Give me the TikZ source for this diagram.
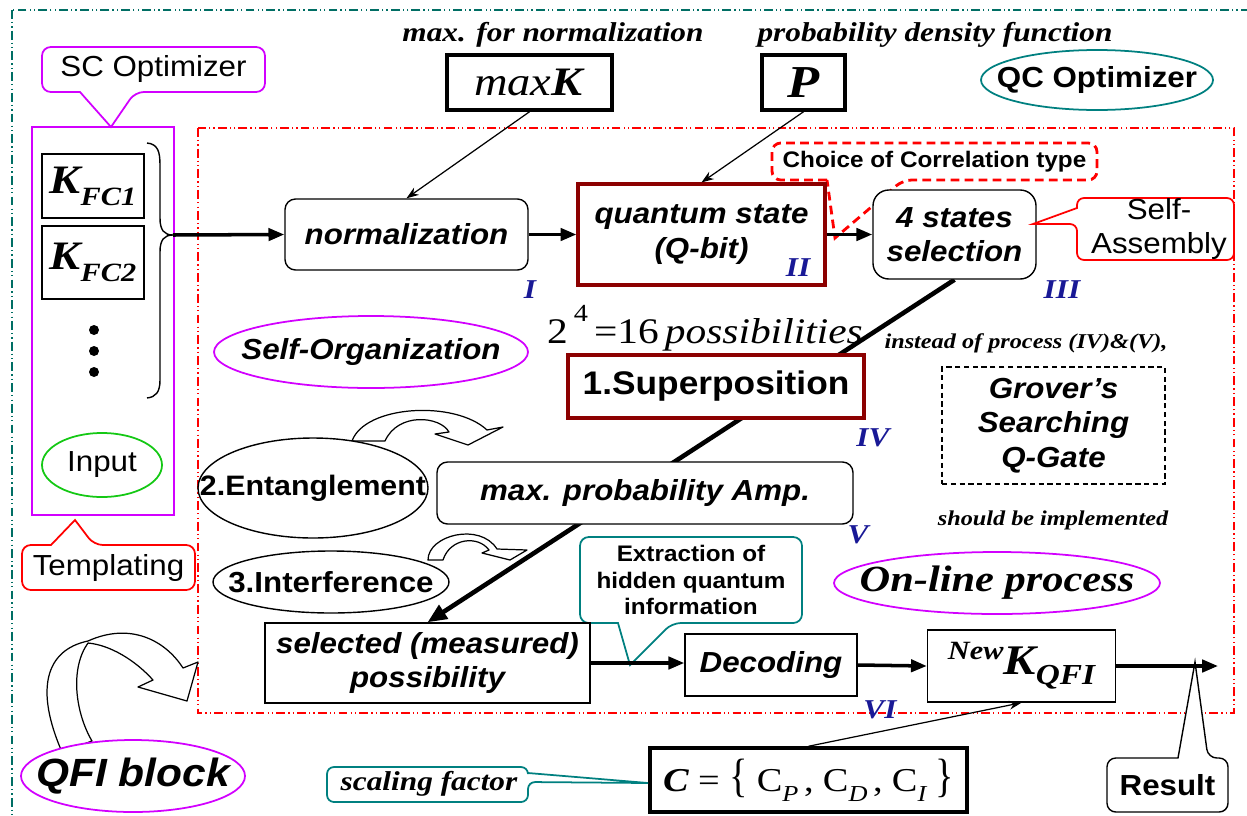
\documentclass[tikz,border=0pt]{standalone}
\usepackage{fontspec}
\setmainfont[FakeStretch=1.15]{Liberation Serif}
\setsansfont[FakeStretch=1.08]{Liberation Sans}
\usepackage{graphicx}
\usetikzlibrary{arrows.meta,shapes.geometric}
\pgfdeclarelayer{bg}
\pgfsetlayers{bg,main}
\definecolor{frameteal}{RGB}{0,110,100}
\definecolor{qcteal}{RGB}{0,128,128}
\definecolor{mag}{RGB}{210,0,255}
\definecolor{dred}{RGB}{140,0,0}
\definecolor{navyb}{RGB}{25,25,150}
\definecolor{grn}{RGB}{20,200,20}
\newcommand\kfc[1]{{\rmfamily\bfseries\itshape\fontsize{23}{25}\selectfont K\raisebox{-0.3em}{\fontsize{15}{17}\selectfont FC#1}}}
\newcommand\subit[1]{\raisebox{-0.3em}{\fontsize{13}{15}\selectfont\itshape #1}}
\begin{document}
\begin{tikzpicture}[x=0.02cm,y=-0.02cm,
 sz/.style 2 args={minimum width=#1*0.02cm,minimum height=#2*0.02cm},
 sfbi/.style={font=\sffamily\bfseries\itshape\fontsize{16.5}{19.5}\selectfont},
 sfb/.style={font=\sffamily\bfseries\fontsize{16.5}{19.5}\selectfont},
 sfr/.style={font=\sffamily\fontsize{16.5}{19.5}\selectfont},
 rmbi/.style={font=\rmfamily\bfseries\itshape\fontsize{15.5}{19}\selectfont},
 rbox/.style={draw,line width=0.8pt,rounded corners=6pt,fill=white,inner sep=0pt,align=center},
 sbox/.style={draw,line width=0.8pt,fill=white,inner sep=0pt,align=center},
 qbox/.style={draw=dred,line width=1.8pt,fill=white,inner sep=0pt,align=center},
 tbox/.style={draw,line width=2pt,fill=white,inner sep=0pt,align=center},
 ellline/.style={line width=0.8pt},
 magell/.style={draw=mag,line width=1pt},
 roman/.style={text=navyb,font=\rmfamily\bfseries\itshape\fontsize{15.5}{18}\selectfont},
 mainarrow/.style={line width=2pt,-{Triangle[length=9pt,width=7pt]}},
 thinarrow/.style={line width=0.7pt,-{Stealth[length=7pt,width=5pt]}},
 blockarrow/.style={draw,line width=0.7pt,fill=white,line join=round},
 callout/.style={line width=1pt,fill=white,rounded corners=5pt},
 dashdotdot/.style={dash pattern=on 5pt off 1.8pt on 0.7pt off 1.8pt on 0.7pt off 1.8pt}
]
\useasboundingbox (0,0) rectangle (1247,815);
\clip (0,0) rectangle (1247,815);
% frames
\draw[frameteal,line width=0.7pt,dashdotdot] (12,10) rectangle (1262,830);
\draw[red,line width=0.8pt,dashdotdot] (198,128) rectangle (1234,713);

% ---- left column (SC optimizer)
\draw[mag,line width=1.3pt] (32,127) rectangle (174,515);
\coordinate (sctip) at (111,127);
\draw[mag,callout] (80,92) -- (42,92) -- (42,47) -- (265,47) -- (265,92) -- (135,92) [sharp corners] -- (sctip) -- cycle;
\node[sfr] (sc) at (153.5,69.5) {SC Optimizer};
\node[sbox,sz={102}{64}] (kfc1) at (93,186) {\kfc{1}};
\node[sbox,sz={102}{73}] (kfc2) at (93,262.5) {\kfc{2}};
\fill (94,330) circle[radius=5];
\fill (94,351) circle[radius=5];
\fill (94,372) circle[radius=5];
\coordinate (bracetip) at (173,235);
\draw[line width=0.8pt] (147,143) .. controls (158,144) and (160,152) .. (160,165) -- (160,218) .. controls (160,230) and (164,235) .. (bracetip) .. controls (164,235) and (160,240) .. (160,252) -- (160,380) .. controls (160,392) and (156,397) .. (147,398);
\draw[draw=grn,line width=1pt] (102,465) ellipse [x radius=60,y radius=32];
\node[sfr] (input) at (102,465) {Input};
\coordinate (templtip) at (75,520);
\draw[red,callout] (51,545) -- (22,545) -- (22,590) -- (195,590) -- (195,545) -- (94,545) [sharp corners] -- (templtip) -- cycle;
\node[sfr] (templ) at (108.5,567.5) {Templating};

% ---- top row
\node[rmbi] (lblmax) at (553,35) {max. for normalization};
\node[rmbi] (lblpdf) at (935,35) {probability density function};
\node[tbox,sz={165}{55}] (maxk) at (529.5,82.5) {\rmfamily\fontsize{23}{25}\selectfont\textit{max}\textbf{\textit{K}}};
\node[tbox,sz={83}{55}] (pbox) at (803.5,82.5) {\rmfamily\bfseries\itshape\fontsize{26}{28}\selectfont P};
\draw[draw=qcteal,line width=1pt] (1097,80) ellipse [x radius=116,y radius=30];
\node[sfb] (qc) at (1097,80) {QC Optimizer};

% Choice callout (dashed)
\coordinate (choicetip) at (835,238);
\draw[red,line width=1.6pt,dash pattern=on 5pt off 3pt,rounded corners=5pt] (827,180) -- (772,180) -- (772,143) -- (1097,143) -- (1097,180) -- (903,180) [sharp corners] -- (choicetip) -- cycle;
\node[font=\sffamily\bfseries\fontsize{12.8}{15}\selectfont] (choice) at (934.5,161.5) {Choice of Correlation type};

\node[rbox,sz={243}{71},sfbi] (norm) at (406.5,234.5) {normalization};
\node[qbox,sz={247}{101},sfbi] (qs) at (701.5,234.5) {quantum state\\(Q-bit)};
\node[rbox,rounded corners=9pt,sz={163}{89},sfbi] (st4) at (954.5,234.5) {4 states\\selection};

\coordinate (satip) at (1033,224);
\draw[red,callout,rounded corners=4pt] (1077,208) -- (1077,198) -- (1234,198) -- (1234,260) -- (1077,260) -- (1077,224) [sharp corners] -- (satip) -- cycle;
\node[sfr,align=center] (selfas) at (1159,229) {Self-\\Assembly};

\draw[mainarrow] (bracetip) -- (norm.west);
\draw[mainarrow] (norm.east) -- (qs.west);
\draw[mainarrow] (qs.east) -- (st4.west);
\draw[thinarrow] (maxk.south) -- (norm.north);
\draw[thinarrow] (pbox.south) -- (qs.north);

% roman labels
\node[roman] (r1) at (530,290) {I};
\node[roman] (r2) at (798,268) {II};
\node[roman] (r3) at (1062,290) {III};
\node[roman] (r4) at (873,438) {IV};
\node[roman] (r5) at (858,535) {V};
\node[roman] (r6) at (880,710) {VI};

% ---- middle
\node[font=\rmfamily\fontsize{20.5}{23}\selectfont] (poss) at (705,328) {2\,\raisebox{0.6em}{\fontsize{14}{16}\selectfont 4}\,=16\,\textit{possibilities}};
\node[qbox,sz={296}{63},font=\sffamily\bfseries\fontsize{18.6}{21}\selectfont] (sup) at (716,386.5) {1.Superposition};
\draw[magell] (371,352) ellipse [x radius=157,y radius=36];
\node[sfbi] (selforg) at (371,352) {Self-Organization};

\draw[blockarrow] (352,441) .. controls (365,405) and (455,400) .. (487,430) -- (503,427) -- (468,445) -- (435,434) -- (449,432) .. controls (440,416) and (398,412) .. (385,441) -- cycle;
\draw[ellline,fill=white] (313,488) ellipse [x radius=115,y radius=50];
\node[font=\sffamily\bfseries\fontsize{16}{19}\selectfont] (ent) at (313,488) {2.Entanglement};
\node[rbox,sz={416}{62},sfbi] (amp) at (645,493) {max. probability Amp.};
\draw[ellline,fill=white] (331,582) ellipse [x radius=118,y radius=31];
\node[font=\sffamily\bfseries\fontsize{16.5}{19}\selectfont] (intf) at (331,582) {3.Interference};

\node[rmbi,font=\rmfamily\bfseries\itshape\fontsize{12}{14}\selectfont] (instead) at (1026,343) {instead of process (IV)\&(V),};
\node[draw,line width=0.8pt,dash pattern=on 3pt off 2pt,sz={223}{117},align=center,sfbi] (grover) at (1053.5,425.5) {Grover’s\\Searching\\Q-Gate};
\node[rmbi,font=\rmfamily\bfseries\itshape\fontsize{12}{14}\selectfont] (should) at (1053,520) {should be implemented};
\draw[magell] (997,583) ellipse [x radius=163,y radius=31];
\node[font=\rmfamily\bfseries\itshape\fontsize{21}{24}\selectfont] (online) at (997,583) {On-line process};

\coordinate (extip) at (630,665);
\draw[qcteal,callout] (618,623) -- (580,623) -- (580,537) -- (802,537) -- (802,623) -- (672,623) [sharp corners] -- (extip) -- cycle;
\node[font=\sffamily\bfseries\fontsize{12.8}{15}\selectfont,align=center] (extr) at (691,580) {Extraction of\\hidden quantum\\information};

% ---- bottom flow
\node[sbox,sz={325}{80},sfbi] (sel) at (427.5,663) {selected (measured)\\possibility};
\node[sbox,sz={172}{62},sfbi] (dec) at (771,665) {Decoding};
\node[sbox,sz={188}{72}] (kq) at (1021.5,666) {{\rmfamily\bfseries\itshape\fontsize{15}{18}\selectfont\raisebox{0.55em}{New}}{\rmfamily\bfseries\itshape\fontsize{24}{26}\selectfont K}{\rmfamily\bfseries\itshape\fontsize{16.5}{20}\selectfont\raisebox{-0.35em}{QFI}}};

\begin{pgfonlayer}{bg}
\draw[blockarrow] (428,560) .. controls (428,535) and (480,522) .. (497,549) -- (527,550) -- (510,560) -- (482,553) -- (489,550) .. controls (478,535) and (450,538) .. (443,560) -- cycle;
\draw[line width=2.6pt,-{Triangle[length=11pt,width=9pt]}] (st4.south) -- (sel.north);
\end{pgfonlayer}

\draw[mainarrow] (sel.east) -- (sel.east -| dec.west);
\draw[mainarrow] (dec.east) -- (kq.west);

% QFI block
\draw[blockarrow] (62,752) .. controls (35,690) and (45,650) .. (88,641) .. controls (130,622) and (165,640) .. (183,668) -- (198,662) -- (187,701) -- (138,687) -- (153,680) .. controls (135,660) and (110,645) .. (88,643) .. controls (70,668) and (75,712) .. (92,741) -- cycle;
\draw[magell,fill=white] (133,776) ellipse [x radius=112,y radius=36];
\node[font=\sffamily\bfseries\itshape\fontsize{22.4}{25}\selectfont] (qfi) at (133,776) {QFI block};

\node[tbox,sz={317}{64}] (cbox) at (808.5,780) {\rmfamily\fontsize{19}{21}\selectfont\textbf{\textit{C}}\;=\;\scalebox{1}[1.4]{\{}\;C\subit{P}\,,\;C\subit{D}\,,\;C\subit{I}\;\scalebox{1}[1.4]{\}}};
\draw[thinarrow] (cbox.north) -- (kq.south);

\coordinate (sctip2) at (648,783);
\draw[qcteal,callout,rounded corners=4pt] (528,773) -- (528,767) -- (327,767) -- (327,802) -- (528,802) -- (528,782) [sharp corners] -- (sctip2) -- cycle;
\node[rmbi] (scal) at (429,784) {scaling factor};

\coordinate (restip) at (1195,662);
\draw[callout,line width=0.8pt] (1178,758) -- (1107,758) -- (1107,812) -- (1228,812) -- (1228,758) -- (1208,758) [sharp corners] -- (restip) -- cycle;
\node[sfb] (res) at (1167.5,785) {Result};

\coordinate (out) at (1218,666);
\draw[mainarrow] (kq.east) -- (out);
\end{tikzpicture}
\end{document}
